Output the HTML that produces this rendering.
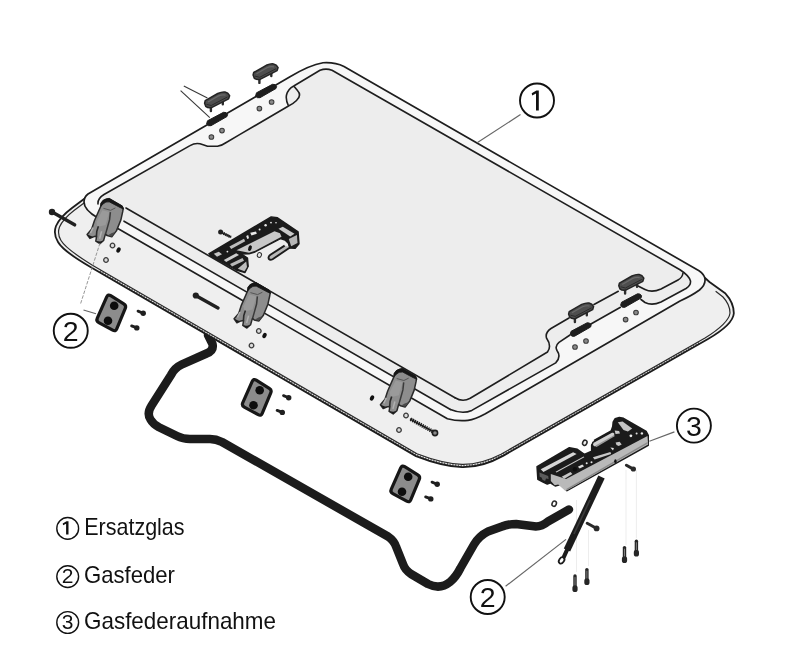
<!DOCTYPE html>
<html>
<head>
<meta charset="utf-8">
<title>Ersatzteile</title>
<style>
html,body{margin:0;padding:0;background:#fff;}
body{width:800px;height:657px;overflow:hidden;font-family:"Liberation Sans",sans-serif;}
svg{display:block;filter:grayscale(1);}
text{font-family:"Liberation Sans",sans-serif;fill:#111;}
</style>
</head>
<body>
<svg width="800" height="657" viewBox="0 0 800 657">
<rect width="800" height="657" fill="#ffffff"/>

<!-- ===== GAS SPRING BENT TUBE (behind panel) ===== -->
<g id="tube" fill="none" stroke="#1c1c1c" stroke-linejoin="round" stroke-linecap="round">
<path d="M208,335 L212.5,344 Q214,350.5 206.5,353.5 L181.5,364.7 Q174.5,368 171,375 L151.6,405.5 Q146.5,413.5 150.5,419.5 Q153,424 159,427.2 L177,436 Q183,439 190,439 L210,439 Q216,439 222,442 L388,536.5 Q394,540.5 396.2,547 L403,564 Q405,570 411,574 L428,584 Q440,590 450,582 Q456,577 460.5,568 L474,544.5 Q479,536 488,531.5 L502,526.5 Q508,524 516,524 L536,526.5 Q542,526.5 548,521.5 L569,509.5" stroke-width="8.5"/>
</g>

<!-- guide lines -->
<g stroke="#e9e9e9" stroke-width="0.8" fill="none">
<path d="M636.4,470 L636.4,538 M626,470 L626,545 M588.5,530 L588.5,566 M576.5,500 L576.5,572"/>
</g>

<!-- ===== MAIN PANEL ===== -->
<g id="panel" stroke-linejoin="round" stroke-linecap="round">
<!-- skirt (lower visible side) -->
<path d="M88,196 L72,208 Q60,217 56,226 Q53,234 58,242 Q63,251 90,266.7 L416,456.1 Q442,466.3 462,467.2 Q482,467.6 503,455.9 L708,339.0 Q733,324.5 733.8,313.5 Q734,303 725.5,293.6 L709.5,282 L704.5,277.5 L460,300 Z" fill="#efefef" stroke="none"/>
<path d="M100,271.0 L417,455.2 Q442,464.8 462,465.8 Q481.5,466.1 502,455.1 L700,342.2" fill="none" stroke="#6a6a6a" stroke-width="2.4" stroke-dasharray="1.3 1.5" stroke-linecap="butt"/>
<path d="M88,196 L72,208 Q60,217 56,226 Q53,234 58,242 Q63,251 90,266.7 L416,456.1 Q442,466.3 462,467.2 Q482,467.6 503,455.9 L708,339.0 Q733,324.5 733.8,313.5 Q734,303 725.5,293.6 L709.5,282 L704.5,277.5" fill="none" stroke="#1c1c1c" stroke-width="1.8"/>
<path d="M84,203 L74,210.5 Q63,219 59.5,227 Q57,234 61,240.5 Q66,249 92,264.9 L417,453.7 Q442,463.3 462,464.4 Q481,464.7 501,454.3 L705,338.1 Q729,323 730,313 Q730,304.5 723,297 L716,291.5" fill="none" stroke="#2a2a2a" stroke-width="1.2"/>
<!-- top surface loop (outer) -->
<path id="S" d="M88,194 L290,76.8 Q309.5,65 323,62.75 Q335,62 344,66.5 L699,270.75 Q704.5,274.5 705,279 Q705.6,285 699.5,290 Q692,295.5 680,301.0 L485.4,413.8 Q475,419.5 468,420.3 Q458,421.5 447.4,418.7 L120,229.8 L98,218 Q84,210 84,202 Q84,197 88,194 Z" fill="#f7f7f7" stroke="#1e1e1e" stroke-width="1.7"/>
<!-- glass inner area -->
<path id="G" d="M104,194.5 L190,145.6 Q195,142.6 200,143.75 Q204,145 207.5,146.25 L217.5,146.25 Q222,145.5 226.25,142.5 L240,134.4 L288.5,106 Q285.5,100 286.5,95 Q288,89 293.75,86 L320,70.25 Q326,68 332,70.25 L680,269.75 Q689,275.5 690.5,281 Q691,285.5 686,288.5 L661,302 Q652,306 645,302.5 L641.9,299 L620.5,307.3 L590,324.5 L570,335 L559,342.3 Q554.5,346 557,350.5 Q561.5,357 555.7,362.9 L471.8,410.4 Q462.6,414.5 450.4,409.5 L124,221.2 L100,203 Z" fill="#ededed" stroke="none"/>
<!-- TL/TR inner line -->
<path d="M98,204 Q97.5,198.5 104,194.5 L190,145.6 Q195,142.6 200,143.75 Q204,145 207.5,146.25 L217.5,146.25 Q222,145.5 226.25,142.5 L240,134.4 L288.5,106 Q293,104 296.5,100.5 Q302,95.5 297.5,90.5 Q295,87.5 293.75,86 M288.5,106 Q285.5,100 286.5,95 Q288,89 293.75,86 L320,70.25 Q326,68 332,70.25 L680,269.75 Q689,275.5 690.5,281 Q691,285.5 686,288.5 L661,302 Q652,306 645,302.5 L641,299.5" fill="none" stroke="#1e1e1e" stroke-width="1.6"/>
<!-- BR line 1 (inner) with caps -->
<path d="M683,273 Q682.5,277.5 678,280 L661,289 Q652,293 645,289.5 L638,286 M618.3,291.3 L594,304.5 M569,318 L551,328.5 Q545,332.5 546.5,338 Q552,346 547.5,352 L470.2,398.3 Q462.6,402.5 455,397.8" fill="none" stroke="#1e1e1e" stroke-width="1.6"/>
<!-- BR line 2 -->
<path d="M620.5,307.3 L590,324.5 M570,335 L559,342.3 Q554.5,346 557,350.5 Q561.5,357 555.7,362.9 L471.8,410.4 Q462.6,414.5 450.4,409.5" fill="none" stroke="#1e1e1e" stroke-width="1.6"/>
<!-- BL line 1 and 2 -->
<path d="M126,208.0 L455,397.8 M124,221.2 L450.4,409.5" fill="none" stroke="#1e1e1e" stroke-width="1.6"/>
</g>

<!-- ===== DEFS ===== -->
<defs>
<g id="hinge">
<!-- body -->
<path d="M247.8,290.5 L248.2,287.6 Q250,284.4 253.3,283.6 L256,283.2 L268.8,290.5 L270.2,292.8 L269.7,296 L267.9,304.2 L263.4,315.2 L258.8,321.1 L254.2,319.9 L252.4,318.4 L250.6,324.8 L246.9,328 L242.8,325.4 L243.6,320.6 L241,320.9 L236.9,322.7 L234.1,318.8 L238.7,313.4 L241.4,305.1 Z" fill="#8d8d8d" stroke="#2a2a2a" stroke-width="1.5" stroke-linejoin="round"/>
<!-- dark top cap -->
<path d="M247.6,290.8 L248,287.4 Q250,283.8 253.3,283.2 L256.2,282.6 L269.2,290.2 L270.6,293.4 L267,291.8 L256.4,286.2 Q252.5,285.6 250.5,288 Z" fill="#161616" stroke="#161616" stroke-width="0.8" stroke-linejoin="round"/>
<!-- ledge crease -->
<path d="M250.4,292.6 L257.6,294.6 L262.4,292.2" fill="none" stroke="#555" stroke-width="1"/>
<!-- lighter faces -->
<path d="M249.4,294.6 L256.4,296.4 L252.6,309.4 L244.4,311.4 L243.4,306.2 Z" fill="#9a9a9a"/>
<!-- central groove -->
<path d="M257.4,296.4 L256.6,304 L254.2,312.6 L252.6,318.2" fill="none" stroke="#3a3a3a" stroke-width="1.5"/>
<!-- prong separation -->
<path d="M245.4,310.6 L243.8,315.6 L243.4,320.4" fill="none" stroke="#2a2a2a" stroke-width="1.6"/>
<path d="M240,312 L237.4,317.4" fill="none" stroke="#b0b0b0" stroke-width="1.5"/>
<path d="M248.6,315.6 L246.6,323" fill="none" stroke="#b0b0b0" stroke-width="1.5"/>
<!-- prong tips dark -->
<path d="M234.3,318.8 L236.9,322.6 L240.4,321.2 L238,320.4 Z" fill="#1b1b1b"/>
<path d="M243,325.4 L246.9,327.9 L250.2,325 L247,325.8 Z" fill="#1b1b1b"/>
<path d="M255,319.6 L258.8,320.8 L262.6,316 L258.4,317.6 Z" fill="#4a4a4a"/>
</g>
<g id="bracket">
<path d="M-4.30,-16.08 Q-3,-19 -0.28,-17.31 L12.78,-9.19 Q15.5,-7.5 14.26,-4.55 L5.74,15.80 Q4.5,18.75 1.70,17.21 L-12.20,9.54 Q-15,8 -13.70,5.08 Z" fill="#8c8c8c" stroke="#161616" stroke-width="3.2" stroke-linejoin="round"/>
<circle cx="3.2" cy="-7.3" r="4.3" fill="#0d0d0d"/>
<circle cx="-3" cy="7.7" r="4.3" fill="#0d0d0d"/>
<g fill="#1f1f1f" stroke="#1f1f1f" stroke-linecap="round">
<path d="M27,-1.9 L31,-0.3" stroke-width="2.8" fill="none"/><circle cx="32.2" cy="0.2" r="2.7" stroke="none"/>
<path d="M20.6,12.9 L24.6,14.4" stroke-width="2.8" fill="none"/><circle cx="25.8" cy="14.9" r="2.7" stroke="none"/>
</g>
</g>
<g id="ring"><circle r="2.3" fill="#dcdcdc" stroke="#3c3c3c" stroke-width="1.3"/></g>
<g id="hole"><circle r="2.3" fill="#8a8a8a" stroke="#3a3a3a" stroke-width="1.1"/></g>
<g id="cap">
<path d="M-6.1,8 L-6.1,11.4 M5.8,1.6 L5.8,4.6" stroke="#2c2c2c" stroke-width="2.4" stroke-linecap="round" fill="none"/>
<path d="M-12.4,3.5 L-11.8,1 L0.75,-6.2 Q5,-8 8,-7.6 Q11,-7 12.6,-4 L11.6,-0.9 L-5.5,7.9 Q-9,8.5 -11.3,6.6 Z" fill="#4e4e4e" stroke="#242424" stroke-width="1.5" stroke-linejoin="round"/>
<path d="M-10.6,4.6 L-5.8,5.8 L10.6,-2.8" fill="none" stroke="#2a2a2a" stroke-width="1"/>
<path d="M-9,2.2 L1.5,-3.8 Q5,-5.4 8.5,-4.6" fill="none" stroke="#6a6a6a" stroke-width="1.2"/>
</g>
<g id="slot">
<path d="M-10.4,4.4 L-9.5,1.3 L6.5,-7.2 Q9.5,-7.6 10.6,-5.2 L10,-3 L-6,6.2 Q-9,7 -10.4,4.4 Z" fill="#1d1d1d" stroke="#1d1d1d" stroke-width="1" stroke-linejoin="round"/>
</g>
</defs>

<!-- ===== HINGES ===== -->
<use href="#hinge" transform="translate(-147,-84.3)"/>
<use href="#hinge"/>
<use href="#hinge" transform="translate(146.3,85.9)"/>

<!-- rings/holes near hinges -->
<g id="hingeholes">
<use href="#ring" x="112.5" y="245.5"/><use href="#ring" x="106" y="260"/><ellipse cx="118.5" cy="250" rx="2" ry="2.8" fill="#111" transform="rotate(25 118.5 250)"/>
<use href="#ring" x="258.8" y="331"/><use href="#ring" x="251.5" y="345.5"/><ellipse cx="264.5" cy="335.5" rx="2" ry="2.8" fill="#111" transform="rotate(25 264.5 335.5)"/>
<use href="#ring" x="406" y="415.5"/><use href="#ring" x="399" y="430"/><ellipse cx="372" cy="398" rx="2" ry="2.8" fill="#111" transform="rotate(25 372 398)"/>
</g>

<!-- ===== TOP-LEFT CAPS / SLOTS ===== -->
<use href="#cap" x="217" y="99.7"/>
<use href="#cap" x="265.5" y="71.5"/>
<use href="#slot" x="217" y="119.5"/>
<use href="#slot" x="266" y="91.5"/>
<use href="#hole" x="222" y="130.6"/><use href="#hole" x="211.4" y="137"/>
<use href="#hole" x="259.4" y="108.6"/><use href="#hole" x="271.6" y="102"/>
<path d="M183.8,85.9 L207.4,98 M180.6,90.7 L209.8,117.6" stroke="#3a3a3a" stroke-width="1.15" fill="none"/>

<!-- ===== BOTTOM-RIGHT CAPS / SLOTS ===== -->
<use href="#cap" x="581" y="310.6"/>
<use href="#cap" x="631.2" y="282.2"/>
<use href="#slot" x="580.6" y="330"/>
<use href="#slot" x="631" y="301"/>
<use href="#hole" x="625.6" y="319.6"/><use href="#hole" x="636" y="312.5"/>
<use href="#hole" x="575" y="347"/><use href="#hole" x="586" y="341"/>

<!-- ===== CENTER LATCH ===== -->
<g id="latch" stroke-linejoin="round">
<path d="M208.8,253.8 L271.2,216.9 L277.5,217.8 L298.1,231.9 L299.0,243.8 L295.2,248.2 L289.5,248.0 L288.5,243.5 L285.0,240.0 L278.1,237.8 L280.0,239.0 L255.0,252.0 L249.0,253.8 L241.2,254.0 L212.5,256.5 Z" fill="#1b1b1b" stroke="#1b1b1b" stroke-width="1.4"/>
<path d="M210.0,255.2 L241.2,253.8 L247.5,258.1 L248.2,266.2 L245.0,272.5 L236.2,270.0 L222.5,262.5 L212.5,256.9 Z" fill="#1b1b1b" stroke="#1b1b1b" stroke-width="1.4"/>
<path d="M229.4,246.5 L244.0,238.8 L245.2,241.2 L231.2,249.0 Z" fill="#bdbdbd"/>
<path d="M236.5,250.2 L274.5,231.2 L280.0,233.2 L281.5,236.8 L255.2,250.8 L249.0,252.8 Z" fill="#c8c8c8"/>
<path d="M278.5,228.8 L282.8,226.8 L294.5,233.8 L290.2,236.5 Z" fill="#cacaca"/>
<path d="M288.8,239.0 L296.9,235.0 L297.5,243.0 L291.2,246.2 Z" fill="#b6b6b6"/>
<path d="M213.8,253.8 L218.8,251.8 L222.0,254.2 L217.0,256.8 Z" fill="#c4c4c4"/>
<path d="M223.8,260.0 L236.2,253.2 L239.0,255.0 L226.2,262.0 Z" fill="#cdcdcd"/>
<path d="M230.0,264.0 L242.5,258.0 L244.0,260.8 L232.0,266.5 Z" fill="#b9b9b9"/>
<path d="M237.8,268.8 L246.2,261.5 L247.0,266.9 L244.5,271.2 Z" fill="#bdbdbd"/>
<path d="M290.3,247.3 L272.6,259.2 Q270.2,260.6 268.8,258.8 Q267.8,256.6 270.4,254.8 L284.6,245.6" fill="#b8b8b8" stroke="#1b1b1b" stroke-width="1.9"/>
<g fill="#e8e8e8">
<path d="M250.2,232.8 L256.0,231.5 L256.8,233.8 L251.5,235.5 Z"/>
<path d="M246.2,236.0 L248.2,235.0 L249.0,238.2 L247.2,239.0 Z"/>
<circle cx="259.6" cy="229.4" r="1"/><circle cx="265.6" cy="225.2" r="1.2"/><circle cx="271" cy="222.6" r="0.9"/><circle cx="276" cy="222.8" r="0.8"/>
<circle cx="227.4" cy="251.6" r="0.9"/>
</g>
<ellipse cx="250" cy="248.2" rx="1.7" ry="2.9" fill="#111" transform="rotate(20 250 248.2)"/>
<ellipse cx="259.4" cy="255" rx="2" ry="2.5" fill="#e9e9e9" stroke="#333" stroke-width="1.1" transform="rotate(20 259.4 255)"/>
</g>

<!-- ===== STRAIGHT GAS SPRING ===== -->
<g id="spring2" stroke-linecap="round">
<path d="M601.5,477 L567,550" stroke="#1c1c1c" stroke-width="7" fill="none" stroke-linecap="butt"/>
<path d="M590,500 L574,534" stroke="#3c3c3c" stroke-width="1.6" fill="none" stroke-linecap="butt"/>
<path d="M567,550 L563.8,557" stroke="#1c1c1c" stroke-width="4.2" fill="none"/>
<ellipse cx="561.6" cy="560.4" rx="2.4" ry="3.4" transform="rotate(36 561.6 560.4)" fill="#fff" stroke="#1c1c1c" stroke-width="1.8"/>
</g>

<!-- ===== ITEM 3 BRACKET ===== -->
<g id="item3" stroke-linejoin="round">
<path d="M537.1,466.7 L569.4,447.8 L577.3,449.4 L584.3,454.4 L591.7,451.3 L591.7,445.0 L594.9,441.5 L594.6,440.2 L611.2,431.0 L612.8,426.6 L613.2,422.2 L615.2,418.7 L619.3,417.5 L623.5,418.4 L646.2,431.5 L648.2,435.4 L648.2,445.2 L567.0,490.6 L561.5,484.3 L555.2,485.9 L550.5,482.8 L547.3,484.0 L542.6,481.7 L537.9,479.3 Z" fill="#1b1b1b" stroke="#1b1b1b" stroke-width="1.6"/>
<path d="M550.8,474.1 L566.1,478.9 L647.5,436 L648.1,444.6 L565.4,491 L558.2,484.4 L554.7,485.3 L550.8,481 Z" fill="#b9b9b9"/>
<path d="M566.6,489.6 L647.9,442.6" stroke="#8a8a8a" stroke-width="1.6" fill="none"/>
<path d="M540.7,469.3 L573.1,452.2 L576.6,454.0 L543.4,471.9 Z" fill="#d6d6d6"/>
<path d="M539.4,472.5 L548.2,476.0 L548.6,478.9 L546.0,478.5 L545.1,481.1 L542.5,479.8 L541.6,477.6 L539.7,476.7 Z" fill="#5a5a5a"/>
<path d="M555.6,471.7 L583.6,456.6 L584.3,457.3 L556.5,472.5 Z" fill="#c8c8c8"/>
<path d="M561.7,476.7 L570.5,471.9 L572.4,474.1 L564.4,478.7 Z" fill="#c6c6c6"/>
<path d="M577.9,466.7 L582.3,464.5 L584.1,466.2 L579.7,468.4 Z" fill="#dedede"/>
<path d="M592.9,457.2 L610.4,452.0 L611.2,453.9 L594.6,459.5 Z" fill="#c9c9c9"/>
<path d="M592.9,442.4 L613.0,431.4 L615.2,433.4 L614.7,436.2 L596.4,447.3 L593.4,446.7 L592.2,444.8 Z" fill="#d0d0d0" stroke="#1b1b1b" stroke-width="1.5"/>
<path d="M595.5,445.4 L614.3,434.9 L614.6,436.2 L596.5,446.9 Z" fill="#9a9a9a"/>
<path d="M617.8,422.2 L622.6,421.4 L632.2,428.4 L627.9,431.5 L623.5,430.1 Z" fill="#c4c4c4"/>
<path d="M614.7,430.6 L619.1,431.0 L620.0,433.6 L615.6,434.1 Z" fill="#c8c8c8"/>
<path d="M615.6,442.5 L619.6,441.7 L621.7,444.6 L618.7,446.0 L616.5,445.0 Z" fill="#c4c4c4"/>
<path d="M610.4,447.4 L613.9,448.1 L613.0,450.4 Z" fill="#e6e6e6"/>
<circle cx="574.9" cy="469.3" r="2.2" fill="#0e0e0e"/>
<circle cx="586.7" cy="463.2" r="1" fill="#e4e4e4"/><circle cx="591.5" cy="462.3" r="1" fill="#e4e4e4"/>
<circle cx="630.9" cy="435.8" r="1.4" fill="#ececec"/><circle cx="636.6" cy="433.6" r="1" fill="#e0e0e0"/><circle cx="641.9" cy="433.4" r="1.2" fill="#e8e8e8"/>
<ellipse cx="615.4" cy="461.2" rx="1.2" ry="1.9" fill="#111"/>
</g>
<!-- rings/screws around item 3 -->
<g>
<ellipse cx="584.8" cy="442.8" rx="2.1" ry="2.7" transform="rotate(25 584.8 442.8)" fill="#f0f0f0" stroke="#2a2a2a" stroke-width="1.5"/>
<ellipse cx="554.2" cy="503.7" rx="2.1" ry="2.7" transform="rotate(25 554.2 503.7)" fill="#fff" stroke="#2a2a2a" stroke-width="1.5"/>
<g stroke="#2a2a2a" stroke-linecap="round" fill="none">
<path d="M626.4,465.2 L632.5,468.6" stroke-width="3"/><circle cx="633.4" cy="469" r="2.6" fill="#2a2a2a" stroke="none"/>
<path d="M587.2,523.2 L595.4,527.8" stroke-width="3"/><circle cx="596.6" cy="528.4" r="2.9" fill="#2a2a2a" stroke="none"/>
</g>
<g id="bolts" stroke="#262626" stroke-linecap="round" fill="none">
<path d="M636.4,541.2 L636.4,552.6" stroke-width="3.4"/><path d="M636.4,552.4 L636.4,554.0" stroke-width="5.2"/><path d="M636.4,542.7 L636.4,549.6" stroke="#8a8a8a" stroke-width="0.9"/>
<path d="M624.5,547.6 L624.5,559" stroke-width="3.4"/><path d="M624.5,558.8 L624.5,560.4" stroke-width="5.2"/><path d="M624.5,549.1 L624.5,556" stroke="#8a8a8a" stroke-width="0.9"/>
<path d="M586.9,569.6 L586.9,581" stroke-width="3.4"/><path d="M586.9,580.8 L586.9,582.4" stroke-width="5.2"/><path d="M586.9,571.1 L586.9,578" stroke="#8a8a8a" stroke-width="0.9"/>
<path d="M575,576 L575,588" stroke-width="3.4"/><path d="M575,587.8 L575,589.4" stroke-width="5.2"/><path d="M575,577.5 L575,585" stroke="#8a8a8a" stroke-width="0.9"/>
</g>

</g>

<!-- ===== BRACKETS ===== -->
<use href="#bracket" x="111" y="313"/>
<use href="#bracket" x="256.5" y="397.5"/>
<use href="#bracket" x="405" y="484"/>

<!-- ===== LONG SCREWS ===== -->
<g stroke="#202020" stroke-linecap="round" fill="none">
<path d="M53,212.6 L74.6,224.8" stroke-width="3.5"/><circle cx="52" cy="212" r="3.2" fill="#202020" stroke="none"/>
<path d="M197,296.2 L218,308" stroke-width="3.4"/><circle cx="195.8" cy="295.5" r="3.1" fill="#202020" stroke="none"/>
<path d="M410.6,419.2 L433,431.6" stroke-width="3.8" stroke-dasharray="1.3 0.9" stroke-linecap="butt"/><path d="M410.6,419.2 L433,431.6" stroke-width="1.6"/>
<circle cx="435" cy="433" r="2.6" fill="#8a8a8a" stroke="#202020" stroke-width="1.6"/>
<path d="M221.6,232.5 L230.8,237" stroke-width="3" stroke-dasharray="1.2 0.8" stroke-linecap="butt"/><path d="M221.6,232.5 L230.8,237" stroke-width="1.4"/><circle cx="220.6" cy="231.9" r="2.5" fill="#202020" stroke="none"/>
</g>

<!-- ===== CALLOUT CIRCLES ===== -->
<g id="callouts" fill="none" stroke="#111" stroke-width="1.9">
<circle cx="537" cy="100.5" r="17"/>
<circle cx="70.75" cy="330.8" r="17"/>
<circle cx="693.9" cy="425.6" r="17"/>
<circle cx="487.7" cy="597" r="17"/>
</g>
<g font-size="28.5" text-anchor="middle" opacity="0.999">
<path d="M538.8,90.5 L536.4,90.5 L531.7,93.3 L532.2,95.6 L536,93.6 L536,110.5 L538.8,110.5 Z" fill="#111"/>
<text x="70.75" y="340.9">2</text>
<text x="693.9" y="436">3</text>
<text x="487.7" y="607.1">2</text>
</g>
<!-- leaders -->
<g stroke="#666" stroke-width="1.2" fill="none">
<path d="M520.5,114.6 L477.5,142.4"/>
<path d="M83.5,310 L96,313.75"/>
<path d="M100,243 L80.5,304" stroke="#8a8a8a" stroke-width="0.9" stroke-dasharray="3.5 1.5"/>
<path d="M674.4,431.9 L649.4,441.25"/>
<path d="M505.6,586.25 L566,539.4"/>
</g>

<!-- ===== LEGEND TEXT ===== -->
<g id="legend" opacity="0.999">
<circle cx="67.7" cy="528.4" r="10.9" fill="none" stroke="#111" stroke-width="1.4"/>
<circle cx="67.7" cy="576.6" r="10.9" fill="none" stroke="#111" stroke-width="1.4"/>
<circle cx="67.7" cy="622.5" r="10.9" fill="none" stroke="#111" stroke-width="1.4"/>
<path d="M68.5,521.2 L66.5,521.2 L62.7,523.4 L63.1,525.2 L66.1,523.7 L66.1,534.5 L68.5,534.5 Z" fill="#111"/>
<text x="67.7" y="583.2" font-size="21" text-anchor="middle">2</text>
<text x="67.7" y="629.1" font-size="21" text-anchor="middle">3</text>
<text x="84.2" y="535" font-size="23.2" textLength="100.4" lengthAdjust="spacingAndGlyphs">Ersatzglas</text>
<text x="84" y="583" font-size="23.2" textLength="91" lengthAdjust="spacingAndGlyphs">Gasfeder</text>
<text x="84" y="629" font-size="23.2" textLength="192" lengthAdjust="spacingAndGlyphs">Gasfederaufnahme</text>
</g>
</svg>
</body>
</html>
